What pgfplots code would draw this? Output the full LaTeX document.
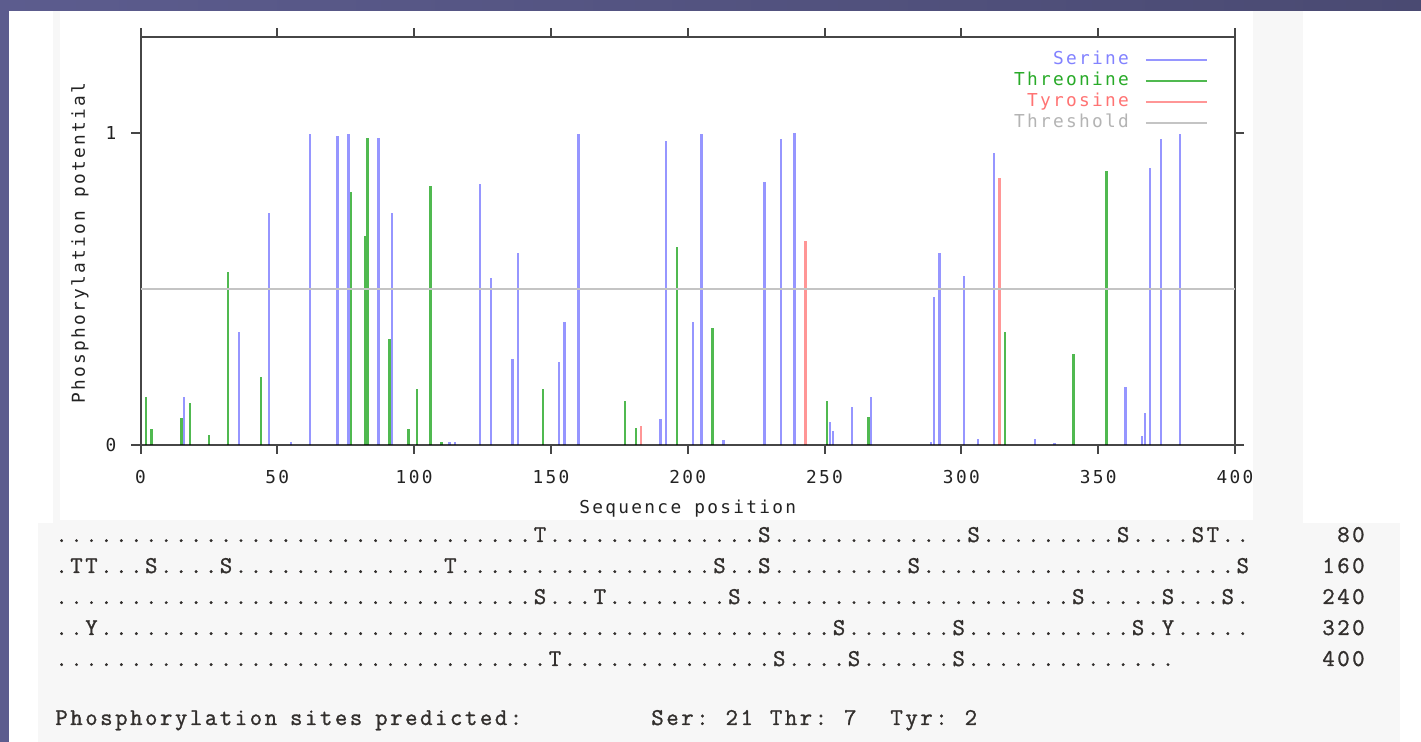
\documentclass[border=0pt]{standalone}
\usepackage{fontspec}
\usepackage{pgfplots}
\pgfplotsset{compat=1.18}
\newfontfamily\gpfam[LetterSpace=13]{DejaVu Sans Mono}
\newfontfamily\courfam[LetterSpace=10.8, FakeBold=1.2]{Latin Modern Mono}
\newcommand\gp{\gpfam\fontsize{8.9pt}{10pt}\selectfont}
\newcommand\cour{\courfam\fontsize{12pt}{14pt}\selectfont\frenchspacing}
\newcommand\s{\kern8.5pt}
\newcommand\st{\kern6.5pt}
\ExplSyntaxOn
\NewDocumentCommand\D{m}{\prg_replicate:nn{#1}{.}}
\ExplSyntaxOff
\definecolor{serblue}{RGB}{150,150,255}
\definecolor{thrgreen}{RGB}{80,185,80}
\definecolor{tyrred}{RGB}{255,150,150}
\definecolor{thrgray}{RGB}{196,196,196}
\definecolor{serlab}{RGB}{130,130,255}
\definecolor{thrlab}{RGB}{40,170,40}
\definecolor{tyrlab}{RGB}{255,115,115}
\definecolor{thlab}{RGB}{180,180,180}
\definecolor{axisc}{RGB}{70,70,70}
\definecolor{labc}{RGB}{35,35,35}
\definecolor{panel}{RGB}{247,247,247}
\definecolor{txt}{RGB}{50,47,45}
\definecolor{slideA}{RGB}{92,92,142}
\definecolor{slideB}{RGB}{74,74,114}
\begin{document}
\begin{tikzpicture}
\begin{scope}[x=0.5pt,y=-0.5pt]
\useasboundingbox (0,0) rectangle (1421,742);
\shade[left color=slideA, right color=slideB] (0,0) rectangle (1421,742);
\fill[white] (9,11) rectangle (1421,742);
\fill[panel] (53,11) rectangle (1303,523);
\fill[white] (60,11) rectangle (1253,520);
\fill[panel] (38,523) rectangle (1400,742);
\begin{scope}[every node/.style={inner sep=0pt, font=\cour, text=txt}]
\node[anchor=base west] at (55,542) {\D{32}T\D{14}S\D{13}S\D{9}S\D{4}ST\D{2}};
\node[anchor=base west] at (55,573) {\D{1}TT\D{3}S\D{4}S\D{14}T\D{17}S\D{2}S\D{9}S\D{21}S};
\node[anchor=base west] at (55,604) {\D{32}S\D{3}T\D{8}S\D{22}S\D{5}S\D{3}S\D{1}};
\node[anchor=base west] at (55,635) {\D{2}Y\D{49}S\D{7}S\D{11}S\D{1}Y\D{5}};
\node[anchor=base west] at (55,666) {\D{33}T\D{14}S\D{4}S\D{6}S\D{14}};
\node[anchor=base east] at (1365,542) {80};
\node[anchor=base east] at (1365,573) {160};
\node[anchor=base east] at (1365,604) {240};
\node[anchor=base east] at (1365,635) {320};
\node[anchor=base east] at (1365,666) {400};
\node[anchor=base west] at (55,725) {Phosphorylation\st{}sites\st{}predicted:};
\node[anchor=base west] at (651,725) {Ser:\s{}21\s{}Thr:\s{}7\s\s{}Tyr:\s{}2};
\end{scope}
\end{scope}
\begin{axis}[
  at={(70.25pt,-222.5pt)}, anchor=south west,
  scale only axis, width=547.25pt, height=203.75pt,
  xmin=0, xmax=400, ymin=0, ymax=1.305,
  xtick={0,50,...,400}, ytick={0,1},
  xticklabel pos=lower, yticklabel pos=left,
  tick align=outside, major tick length=4.5pt,
  axis line style={line width=1pt, draw=axisc},
  tick style={line width=1pt, draw=axisc},
  ticklabel style={font=\gp, text=labc},
  xticklabel style={yshift=-4.5pt},
  yticklabel style={xshift=-4pt},
  xlabel={Sequence position}, ylabel={Phosphorylation potential},
  label style={font=\gp, text=labc},
  xlabel style={at={(axis description cs:0.5,-0.155)}, anchor=center},
  ylabel style={at={(axis description cs:-0.0553,0.496)}, anchor=center},
  legend style={at={(rel axis cs:0.9753,0.962)}, anchor=north east, draw=none, fill=none,
    font=\gp, inner sep=0pt, outer sep=0pt, row sep=3.5pt, column sep=8pt,
    nodes={inner sep=0pt, text height=6pt, text depth=1pt}},
  legend cell align=right, legend plot pos=right,
  /pgf/number format/assume math mode=true,
]
\addplot[ycomb, draw=serblue, line width=1.2pt, /tikz/blend mode=multiply,
  legend image code/.code={\draw[serblue, line width=1pt] (0pt,0pt) -- (30.5pt,0pt);}]
  table[row sep=\\] {x y\\
16 0.155\\ 36 0.363\\ 47 0.744\\ 55 0.01\\ 62 0.996\\ 72 0.99\\ 76 0.996\\ 87 0.984\\
92 0.744\\ 113 0.01\\ 115 0.01\\ 124 0.836\\ 128 0.534\\ 136 0.275\\ 138 0.616\\
153 0.265\\ 155 0.393\\ 160 0.996\\ 190 0.082\\ 192 0.973\\ 202 0.395\\ 205 0.996\\
213 0.015\\ 228 0.843\\ 234 0.98\\ 239 1.0\\ 252 0.075\\ 253 0.045\\ 260 0.123\\
267 0.155\\ 289 0.01\\ 290 0.475\\ 292 0.616\\ 301 0.542\\ 306 0.018\\ 312 0.934\\
327 0.018\\ 334 0.005\\ 360 0.185\\ 366 0.03\\ 367 0.104\\ 369 0.886\\ 373 0.979\\ 380 0.996\\
};
\addlegendentry{\textcolor{serlab}{Serine}}
\addplot[ycomb, draw=thrgreen, line width=1.2pt, /tikz/blend mode=multiply,
  legend image code/.code={\draw[thrgreen, line width=1pt] (0pt,0pt) -- (30.5pt,0pt);}]
  table[row sep=\\] {x y\\
2 0.155\\ 4 0.05\\ 15 0.088\\ 18 0.135\\ 25 0.032\\ 32 0.553\\ 44 0.217\\ 77 0.81\\
82 0.67\\ 83 0.984\\ 91 0.338\\ 98 0.05\\ 101 0.178\\ 106 0.83\\ 110 0.01\\ 147 0.178\\
177 0.142\\ 181 0.055\\ 196 0.633\\ 209 0.376\\ 251 0.142\\ 266 0.09\\ 316 0.363\\
341 0.29\\ 353 0.877\\
};
\addlegendentry{\textcolor{thrlab}{Threonine}}
\addplot[ycomb, draw=tyrred, line width=1.2pt, /tikz/blend mode=multiply,
  legend image code/.code={\draw[tyrred, line width=1pt] (0pt,0pt) -- (30.5pt,0pt);}]
  table[row sep=\\] {x y\\
183 0.061\\ 243 0.653\\ 314 0.854\\
};
\addlegendentry{\textcolor{tyrlab}{Tyrosine}}
\addplot[draw=thrgray, line width=1pt,
  legend image code/.code={\draw[thrgray, line width=1pt] (0pt,0pt) -- (30.5pt,0pt);}]
  coordinates {(0,0.5) (400,0.5)};
\addlegendentry{\textcolor{thlab}{Threshold}}
\end{axis}
\end{tikzpicture}
\end{document}
